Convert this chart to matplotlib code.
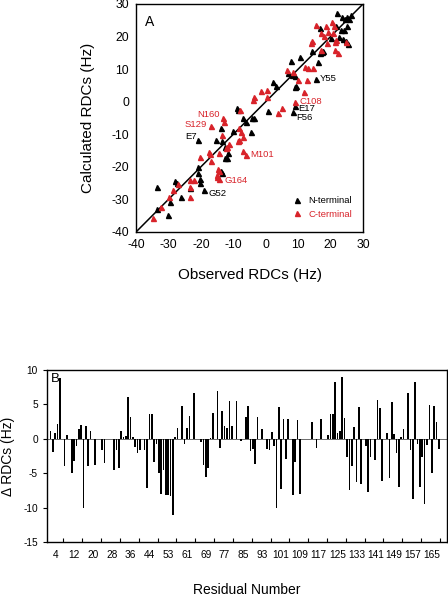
import matplotlib
matplotlib.use("Agg")
import matplotlib.pyplot as plt

plt.rcParams['font.family'] = ['Liberation Sans', 'DejaVu Sans']
plt.rcParams['axes.unicode_minus'] = False

RED = '#d8232a'

# ---------------- Panel A data ----------------
n_obs = [22.0, 23.5, 24.3, 25.0, 25.8, 26.3, 21.8, 25.2, 23.3, 24.1, 16.8, 20.2, 22.5, 23.7,
         24.7, 25.4, 14.2, 16.8, 17.3, 17.8, 16.0, 7.9, 10.6, 7.0, 8.1, 9.1, 9.4, 9.1, 2.4, 3.1,
         15.5, 9.1, 8.4, 0.85, -4.3, -3.5, -7.1, -6.1, -8.8, -8.4, -10.0, -4.6, -13.8, -15.4,
         -13.5, -20.8, -12.5, -12.0, -11.5, -21.0, -21.0, -20.2, -20.2, -13.9, -13.6, -28.0,
         -27.4, -23.5, -26.1, -33.6, -29.5, -33.6, -30.0, -18.9, -12.5]
n_calc = [27.3, 26.0, 25.5, 26.0, 25.3, 26.5, 23.1, 23.3, 22.1, 21.9, 22.5, 19.5, 20.0, 19.2,
          18.5, 17.8, 15.7, 15.1, 15.4, 15.6, 12.3, 12.5, 13.8, 8.9, 8.2, 7.9, 4.9, 4.4, 6.2, 4.9,
          7.0, -1.3, -3.1, -3.0, -5.1, -5.1, -4.9, -6.1, -2.0, -2.5, -9.0, -9.2, -8.1, -11.7,
          -12.2, -11.9, -17.3, -17.3, -15.8, -19.9, -21.9, -23.8, -25.0, -21.4, -21.9, -24.3,
          -25.0, -26.5, -29.3, -26.3, -30.8, -33.0, -34.7, -27.1, -14.0]

c_obs = [15.5, 18.6, 20.3, 21.2, 19.3, 20.6, 17.1, 17.9, 14.2, 14.0, 19.0, 21.5, 21.7, 24.8,
         16.9, 21.4, 22.4, 13.0, 14.5, 12.2, 6.5, 12.7, 9.9, 11.7, 8.9, -1.4, 0.55, 0.35, -3.6,
         -4.0, 5.0, 3.9, -8.3, -7.7, -7.1, -8.1, -13.2, -12.8, -16.8, -13.4, -12.0, -11.3,
         -12.4, -17.4, -17.1, -20.2, -16.8, -14.3, -8.4, -7.1, -6.1, -14.6, -14.3, -14.9, -15.1,
         -14.3, -22.0, -23.3, -27.2, -23.5, -28.7, -23.3, -29.7, -32.4, -34.8, -8.0, 8.5]
c_calc = [23.6, 23.1, 24.6, 23.1, 21.5, 21.0, 21.0, 20.1, 18.5, 18.0, 18.0, 18.2, 18.8, 18.2,
          15.9, 15.9, 14.9, 10.3, 10.3, 10.8, 9.6, 6.7, 6.7, 3.1, 0.0, 3.4, 3.6, 1.3, 1.6,
          0.6, -2.0, -3.5, -8.1, -9.2, -10.7, -11.7, -5.1, -6.3, -7.4, -10.2, -13.8, -13.0,
          -14.3, -15.3, -16.0, -17.1, -18.1, -15.6, -12.0, -15.0, -16.3, -20.7, -21.4, -22.5, -23.0,
          -23.8, -24.0, -24.0, -25.2, -26.3, -27.1, -29.4, -29.3, -32.4, -35.7, -2.4, 9.0]

# annotations
ann_text = ['Y55', 'C108', 'E17', 'F56', 'N160', 'S129', 'E7', 'M101', 'G164', 'G52']
ann_x = [16.8, 10.3, 10.1, 9.4, -14.1, -18.1, -21.3, -4.8, -12.7, -17.7]
ann_y = [7.0, 0.2, -2.2, -5.0, -4.0, -7.1, -10.7, -16.3, -24.2, -28.3]
ann_col = ['black', RED, 'black', 'black', RED, RED, 'black', RED, RED, 'black']
ann_ha = ['left', 'left', 'left', 'left', 'right', 'right', 'right', 'left', 'left', 'left']

# ---------------- Panel B data ----------------
residues = list(range(1, 45)) + list(range(46, 172))
delta = [
    0, 1.1, -1.9, 0.9, 2.1, 8.8, 0, -4.0, 0.5, 0,            # 0-9
    -4.9, -3.2, -1.0, 1.4, 2.0, -10.0, 1.8, -4.0, 1.2, 0,      # 10-19
    -3.8, 0, 0, -1.7, -3.5, 0, 0, 0, -4.6, -1.7,               # 20-29
    -4.3, 1.2, 0.3, 0.4, 6.1, 3.2, 0.2, -1.2, -2.1, -1.7,      # 30-39
    0, -1.7, -7.1, 3.6, 3.6, -3.3, -0.8, -5.0, -8.0, -4.5,     # 40-49
    -8.1, -8.1, -8.3, -11.1, 0.3, 1.5, 0, 4.8, -0.7, 1.6,      # 50-59
    3.3, 0, 6.6, 0, 0, -0.5, -3.8, -5.5, -4.2, 0.15,           # 60-69
    3.8, 0, 7.0, -1.4, 4.1, 1.9, 1.6, 5.5, 1.8, 0,             # 70-79
    5.5, 0, -0.3, 0, 3.2, 4.7, -1.8, -1.5, -3.7, 3.2,          # 80-89
    0, 1.4, 0, -1.5, -1.6, 1.0, -1.0, -10.1, 4.6, -7.3,        # 90-99
    2.9, -2.9, 2.9, 0, -8.2, -3.4, 2.7, -8.0, 0, 0,            # 100-109
    0, 0, 2.4, 0, -1.4, 0, 2.9, 0, 0, 0.6,                     # 110-119
    3.6, 3.6, 8.3, 0.9, 1.2, 9.0, 3.0, -2.6, -7.4, -3.9,       # 120-129
    1.7, -6.3, 4.6, -6.6, 0, -1.0, -7.7, -2.6, 0, -3.1,        # 130-139
    5.7, 4.5, -6.1, 0, 0.9, -5.7, 5.3, 0.7, -2.1, -7.0,        # 140-149
    0.3, 1.4, 0, 6.6, -1.6, -8.7, 8.2, -0.7, -7.0, -2.7,       # 150-159
    -9.5, -0.9, 4.9, -5.0, 4.8, 2.4, -1.5, 0, 0, 0,            # 160-169
]
label_idx = list(range(3, 170, 8))

# ---------------- Figure ----------------
fig = plt.figure(figsize=(4.48, 6.0), dpi=100)

ax1 = fig.add_axes([136/448, (600-232)/600, 227/448, 228/600])
ax1.plot([-40, 30], [-40, 30], color='black', lw=1.1, zorder=1)
ax1.plot(n_obs, n_calc, linestyle='none', marker='^', ms=3.6, color='black',
         mec='black', label='N-terminal', zorder=3)
ax1.plot(c_obs, c_calc, linestyle='none', marker='^', ms=3.6, color=RED,
         mec=RED, label='C-terminal', zorder=3)
for t, x, y, c, ha in zip(ann_text, ann_x, ann_y, ann_col, ann_ha):
    ax1.text(x, y, t, color=c, ha=ha, va='center', fontsize=6.8)
ax1.set_xlim(-40, 30)
ax1.set_ylim(-40, 30)
ax1.set_xticks(range(-40, 31, 10))
ax1.set_yticks(range(-40, 31, 10))
ax1.tick_params(labelsize=8.8, length=0, pad=5)
ax1.set_xlabel('Observed RDCs (Hz)', fontsize=11, labelpad=12)
ax1.set_ylabel('Calculated RDCs (Hz)', fontsize=11, labelpad=12)
ax1.text(0.04, 0.95, 'A', transform=ax1.transAxes, fontsize=10, ha='left', va='top')
ax1.legend(loc='lower left', bbox_to_anchor=(0.655, 0.03), frameon=False,
           fontsize=6.8, handletextpad=0.6, handlelength=1.2, borderpad=0.2,
           labelspacing=0.45, labelcolor=['black', RED])
for sp in ax1.spines.values():
    sp.set_linewidth(1.0)

ax2 = fig.add_axes([47/448, 58/600, 400/448, 172/600])
xpos = list(range(len(delta)))
ax2.bar(xpos, delta, width=0.72, color='black', edgecolor='none', zorder=2)
ax2.axhline(0, color='#555555', lw=0.6, zorder=1)
ax2.set_xlim(-0.5, len(delta) - 0.5)
ax2.set_ylim(-15, 10)
ax2.set_yticks(range(-15, 11, 5))
ax2.set_xticks([i + 3.5 for i in label_idx if i + 3.5 < len(delta)])
ax2.set_xticklabels([])
ax2.set_xticks(label_idx, minor=True)
ax2.set_xticklabels([str(residues[i]) for i in label_idx], minor=True)
ax2.tick_params(axis='x', which='major', direction='in', length=3)
ax2.tick_params(axis='x', which='minor', length=0, labelsize=7.3, pad=6)
ax2.tick_params(axis='y', direction='out', length=3, labelsize=7.3)
ax2.set_xlabel('Residual Number', fontsize=10, labelpad=16)
ax2.set_ylabel('Δ RDCs (Hz)', fontsize=10, labelpad=6)
ax2.text(0.01, 0.985, 'B', transform=ax2.transAxes, fontsize=9.5, ha='left', va='top')
for sp in ax2.spines.values():
    sp.set_linewidth(1.0)

fig.savefig('out.png', dpi=100)
